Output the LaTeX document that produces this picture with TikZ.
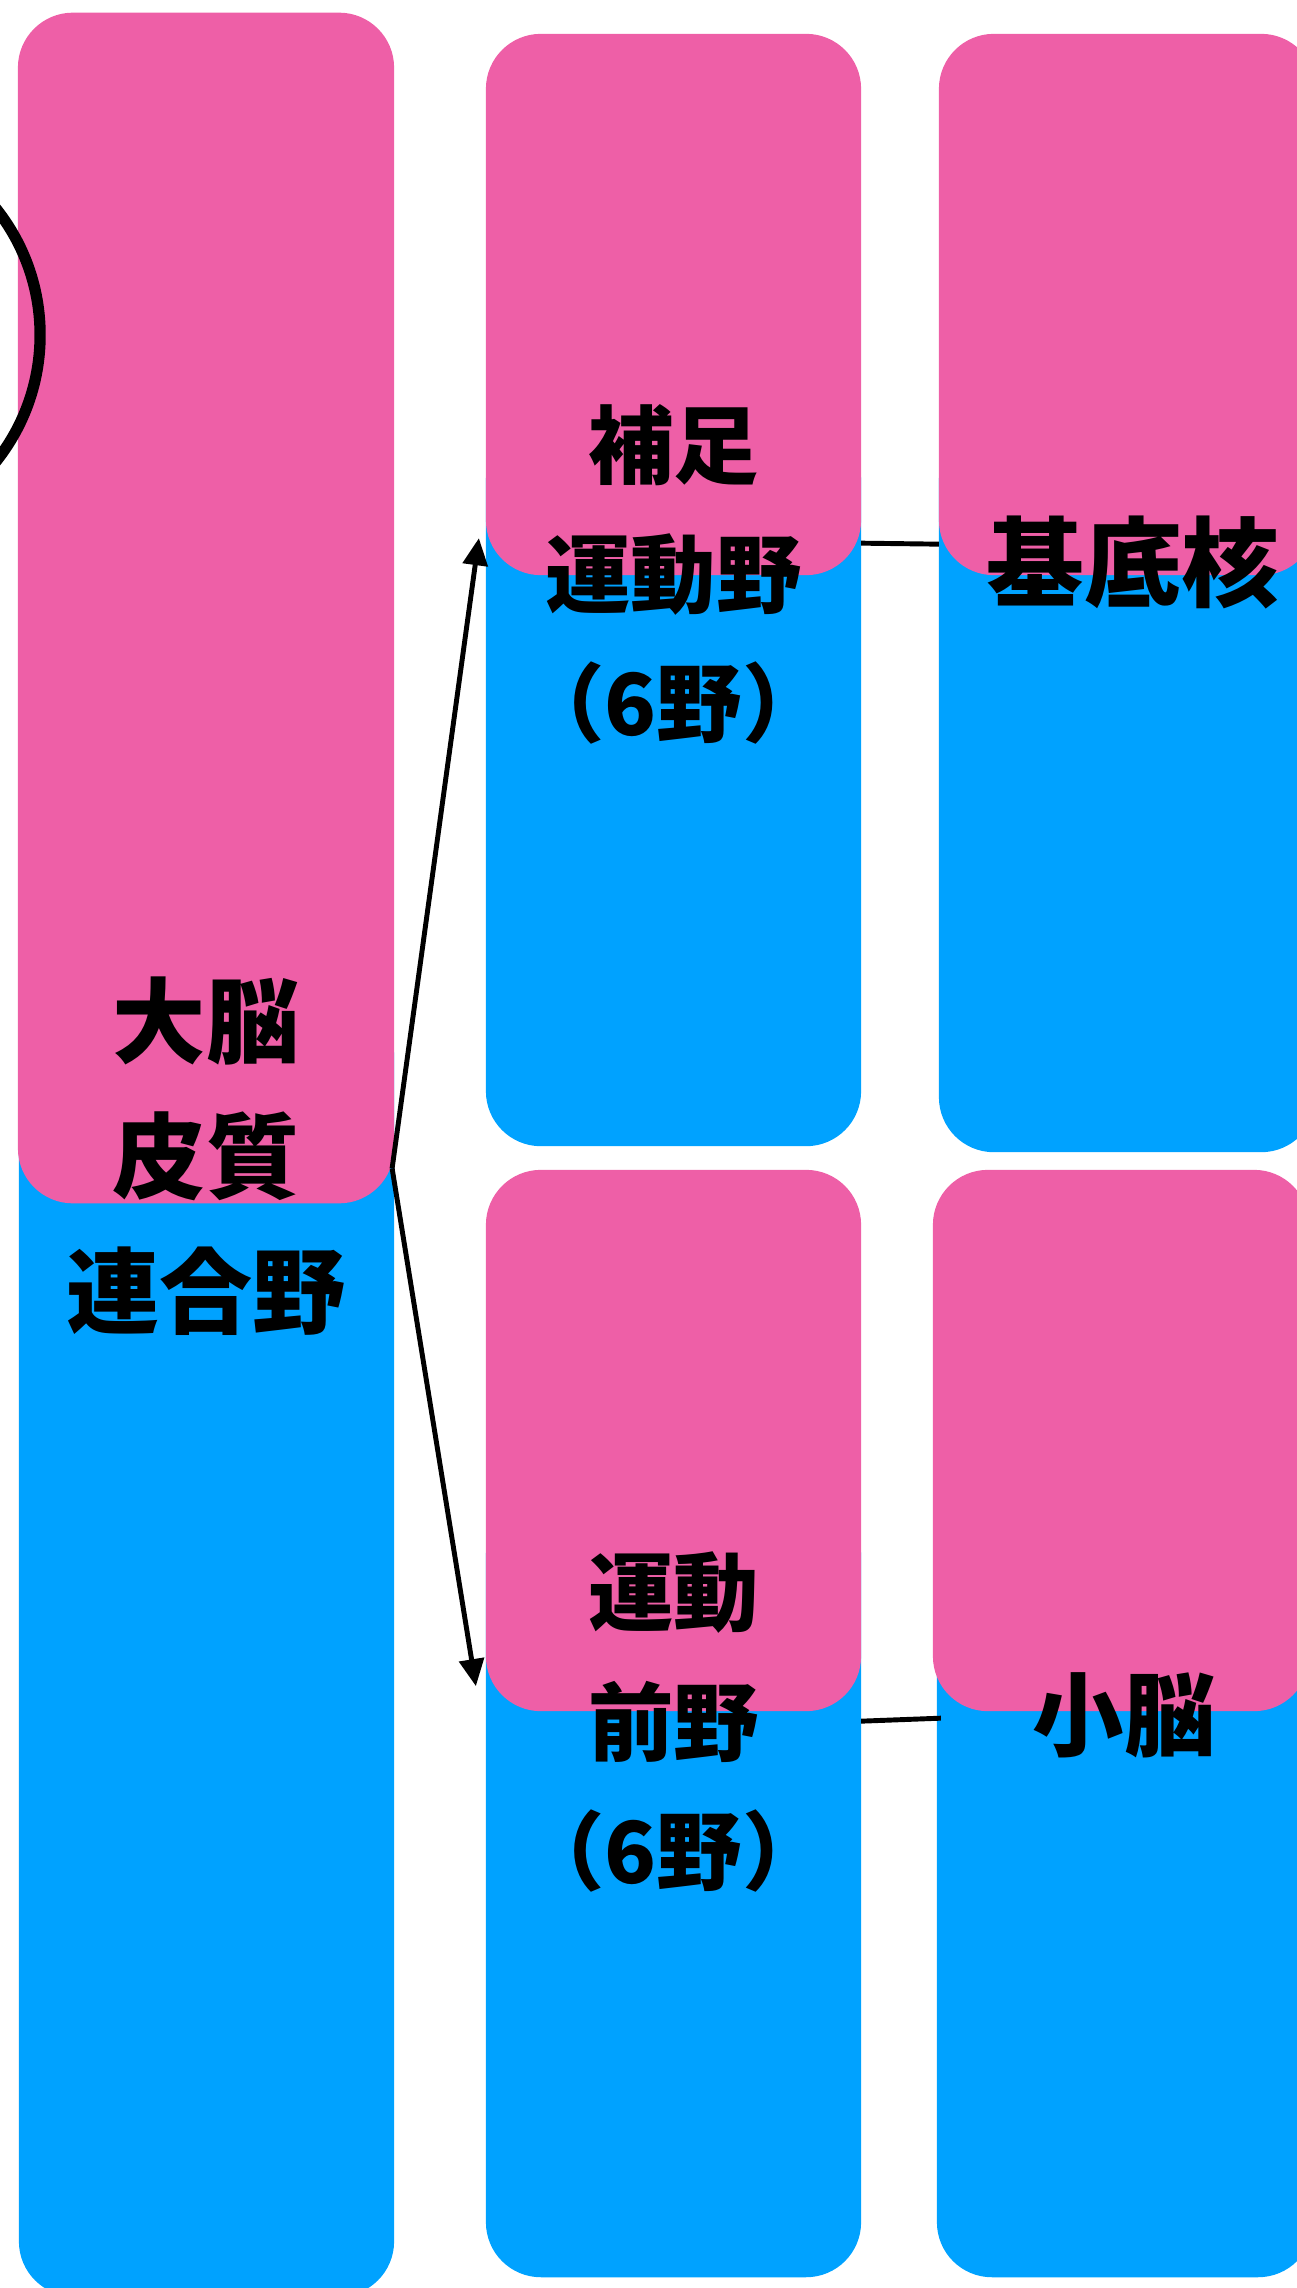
\documentclass[tikz,border=0pt]{standalone}
\usepackage{fontspec}
\newfontfamily\cjk{Noto Sans CJK JP}
\usetikzlibrary{arrows.meta,calc}
\definecolor{pinkc}{RGB}{238,95,167}
\definecolor{bluec}{RGB}{0,162,255}
\begin{document}
\begin{tikzpicture}[x=0.01cm,y=-0.01cm,
  box/.style={rectangle, rounded corners=0.55cm, inner sep=0pt, outer sep=0pt},
  pinkbox/.style={box, fill=pinkc},
  bluebox/.style={box, fill=bluec},
  lbl/.style={align=center, text=black, inner sep=0pt},
  conn/.style={line width=1.4pt, draw=black},
  arr/.style={conn, -{Triangle[length=7.7pt,width=7pt]}}]
\useasboundingbox (0,0) rectangle (1296,2288);
% blue bases
\node[bluebox, minimum width=3.75cm, minimum height=12.96cm] (Lblue) at (206.5,1648) {};
\node[bluebox, minimum width=3.75cm, minimum height=7.21cm] (Mtblue) at (673.5,785.5) {};
\node[bluebox, minimum width=3.77cm, minimum height=7.27cm] (Rtblue) at (1127.5,788.5) {};
\node[bluebox, minimum width=3.75cm, minimum height=7.77cm] (Mbblue) at (673.5,1888.5) {};
\node[bluebox, minimum width=3.76cm, minimum height=7.77cm] (Rbblue) at (1125,1888.5) {};
% pink tops
\node[pinkbox, minimum width=3.76cm, minimum height=11.90cm] (Lpink) at (206,608) {};
\node[pinkbox, minimum width=3.75cm, minimum height=5.41cm] (Mtpink) at (673.5,304.5) {};
\node[pinkbox, minimum width=3.77cm, minimum height=5.41cm] (Rtpink) at (1127.5,304.5) {};
\node[pinkbox, minimum width=3.75cm, minimum height=5.41cm] (Mbpink) at (673.5,1440.5) {};
\node[pinkbox, minimum width=3.76cm, minimum height=5.41cm] (Rbpink) at (1121,1440.5) {};
% ring at the left edge
\node[circle, draw=black, line width=3.2pt, minimum size=4.06cm, inner sep=0pt] (ring) at (-163,335) {};
% labels
\node[lbl, font=\cjk\bfseries\fontsize{26.5pt}{38.4pt}\selectfont] (Ltext) at (206,1156) {大脳\\皮質\\連合野};
\node[lbl, font=\cjk\bfseries\fontsize{24.3pt}{36.7pt}\selectfont] (Mttext) at (673.5,574) {補足\\運動野\\（6野）};
\node[lbl, font=\cjk\bfseries\fontsize{24.3pt}{36.7pt}\selectfont] (Mbtext) at (673.5,1722) {運動\\前野\\（6野）};
\node[lbl, font=\cjk\bfseries\fontsize{27.8pt}{36pt}\selectfont] (Rttext) at (1133,562) {基底核};
\node[lbl, font=\cjk\bfseries\fontsize{26pt}{36pt}\selectfont] (Rbtext) at (1124,1715) {小脳};
% connector ends
\coordinate (src) at ($(Lpink.south east)+(-2,-35)$);
\coordinate (t1) at ($(Mtpink.south west)+(-7,-37)$);
\coordinate (t2) at ($(Mbpink.south west)+(-10,-25)$);
\coordinate (a1) at ($(Mtpink.south east)+(0,-32)$);
\coordinate (b1) at ($(Rtpink.south west)+(0,-31)$);
\coordinate (a2) at ($(Mbpink.south east)+(0,10)$);
\coordinate (b2) at ($(Rbpink.south west)+(8,7)$);
\draw[arr] (src) -- (t1);
\draw[arr] (src) -- (t2);
\draw[conn] (a1) -- (b1);
\draw[conn] (a2) -- (b2);
\end{tikzpicture}
\end{document}
